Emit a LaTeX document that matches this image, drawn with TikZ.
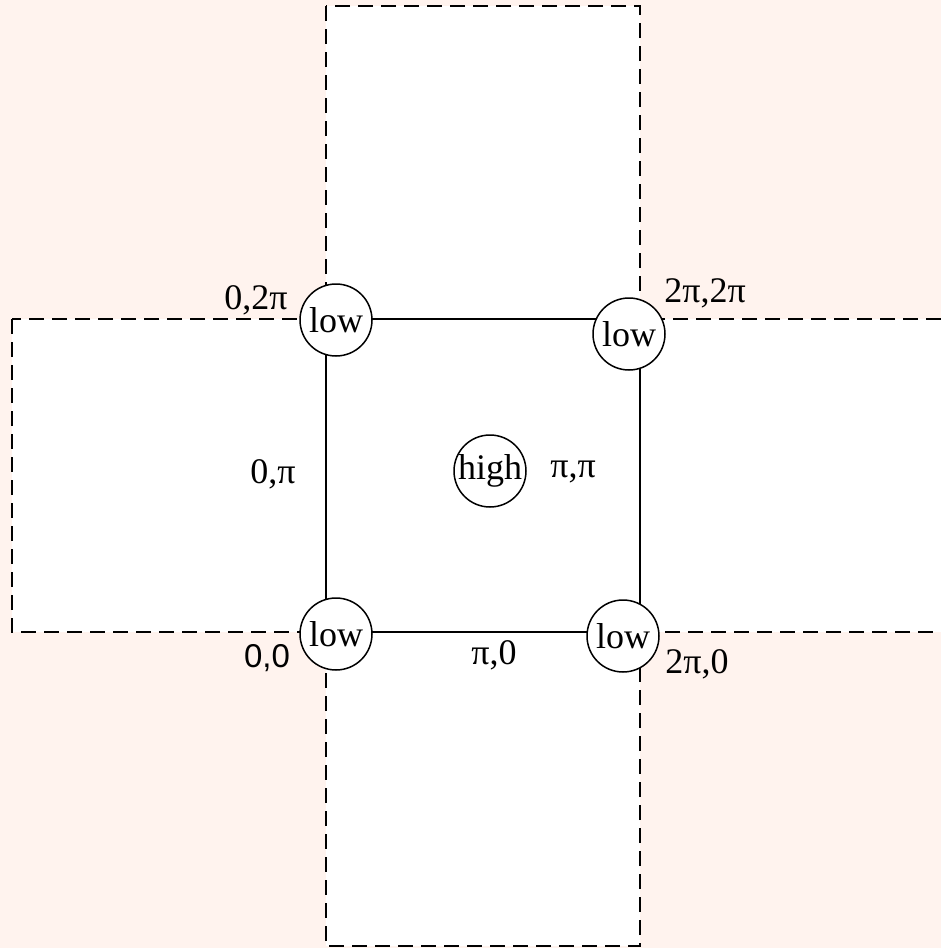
\documentclass[tikz,border=0pt]{standalone}
\usepackage{fontspec}
\setmainfont{Liberation Serif}
\newfontfamily\labsans{Liberation Sans}
\definecolor{bgpink}{RGB}{255,243,238}
\tikzset{
  strip/.style={draw=black, line width=1.6pt, dash pattern=on 15pt off 8pt},
  sq/.style={draw=black, line width=1.6pt},
  state/.style={circle, draw=black, line width=1.5pt, fill=white, minimum size=72pt, inner sep=0pt, font=\fontsize{36}{40}\selectfont},
  lab/.style={inner sep=0pt, font=\fontsize{36}{40}\selectfont}
}
\begin{document}
\begin{tikzpicture}[x=1pt,y=-1pt]
\useasboundingbox (0,0) rectangle (941,948);
\fill[bgpink] (0,0) rectangle (941,948);
\clip (0,0) rectangle (941,948);
\coordinate (v1) at (326,6);
\coordinate (v2) at (640,946);
\coordinate (h1) at (12,319);
\coordinate (h2) at (980,632);
\fill[white] (v1) rectangle (v2);
\fill[white] (h1) rectangle (h2);
\draw[strip] (v1) rectangle (v2);
\draw[strip] (h1) rectangle (h2);
\coordinate (s1) at (326,319);
\coordinate (s2) at (640,632);
\draw[sq] (s1) rectangle (s2);
\node[state] (ul) at (336,320) {low};
\node[state] (ur) at (629,334) {low};
\node[state] (ll) at (336,634) {low};
\node[state] (lr) at (623,636) {low};
\node[state] (hi) at (490,471) {high};
\node[lab] (t1) at (256,300) {0,2π};
\node[lab] (t2) at (705,293) {2π,2π};
\node[lab, font=\labsans\fontsize{33}{38}\selectfont] (t3) at (267,658) {0,0};
\node[lab] (t4) at (697,664) {2π,0};
\node[lab] (t5) at (573,472) {π,π};
\node[lab] (t6) at (273,474) {0,π};
\node[lab] (t7) at (494,655) {π,0};
\end{tikzpicture}
\end{document}
